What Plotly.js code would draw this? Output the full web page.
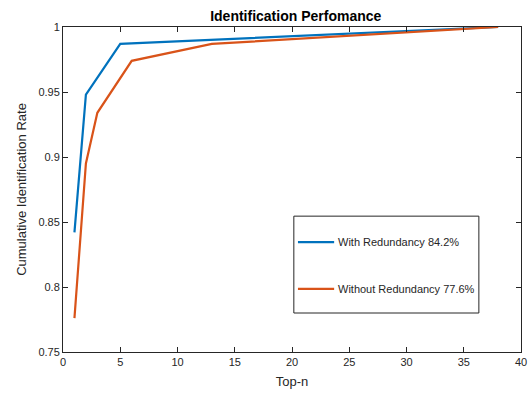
<!DOCTYPE html>
<html>
<head>
<meta charset="utf-8">
<script src="https://cdn.plot.ly/plotly-3.0.1.min.js"></script>
<style>html,body{margin:0;padding:0;background:#fff;}#chart{width:530px;height:394px;}</style>
</head>
<body>
<div id="chart"></div>
<script>
var withX = [1, 2, 5, 38];
var withY = [0.842, 0.948, 0.987, 1.0];
var withoutX = [1, 2, 3, 6, 13, 38];
var withoutY = [0.776, 0.895, 0.934, 0.974, 0.987, 1.0];
var seriesNames = ['With Redundancy 84.2%', 'Without Redundancy 77.6%'];
var seriesColors = ['#0072BD', '#D95319'];
var xTicks = [0, 5, 10, 15, 20, 25, 30, 35, 40];
var yTicks = [0.75, 0.8, 0.85, 0.9, 0.95, 1];
var yTickText = ['0.75', '0.8', '0.85', '0.9', '0.95', '1'];

var axisColor = '#262626';
var traces = [
  {x: withX, y: withY, mode: 'lines', name: seriesNames[0], line: {color: seriesColors[0], width: 2.2}},
  {x: withoutX, y: withoutY, mode: 'lines', name: seriesNames[1], line: {color: seriesColors[1], width: 2.2}}
];

var legY = [0.338, 0.194];
var shapes = [
  {type: 'rect', xref: 'paper', yref: 'paper', x0: 0.504, x1: 0.908, y0: 0.12, y1: 0.418,
   line: {color: axisColor, width: 1}, fillcolor: '#ffffff', layer: 'above'}
];
var annotations = [];
for (var i = 0; i < 2; i++) {
  shapes.push({type: 'line', xref: 'paper', yref: 'paper', x0: 0.513, x1: 0.592, y0: legY[i], y1: legY[i],
    line: {color: seriesColors[i], width: 2.2}, layer: 'above'});
  annotations.push({xref: 'paper', yref: 'paper', x: 0.597, y: legY[i], xanchor: 'left', yanchor: 'middle',
    text: seriesNames[i], showarrow: false, font: {family: 'Liberation Sans, Arial, sans-serif', size: 11, color: axisColor}});
}

var layout = {
  width: 530, height: 394,
  margin: {l: 63, r: 9, t: 27, b: 42},
  paper_bgcolor: '#ffffff', plot_bgcolor: '#ffffff',
  showlegend: false,
  font: {family: 'Liberation Sans, Arial, sans-serif', size: 11, color: axisColor},
  title: {text: '<b>Identification Perfomance</b>', x: 0.558, xanchor: 'center', y: 0.96, yanchor: 'middle',
    font: {size: 14, color: '#000000'}},
  xaxis: {range: [0, 40], tickvals: xTicks, ticks: 'inside', ticklen: 5, tickcolor: axisColor,
    showline: true, linecolor: axisColor, linewidth: 1, mirror: 'ticks', showgrid: false, zeroline: false,
    tickfont: {size: 11, color: axisColor},
    title: {text: 'Top-n', font: {size: 13, color: axisColor}, standoff: 9}},
  yaxis: {range: [0.75, 1], tickvals: yTicks, ticktext: yTickText, ticks: 'inside', ticklen: 5, tickcolor: axisColor,
    showline: true, linecolor: axisColor, linewidth: 1, mirror: 'ticks', showgrid: false, zeroline: false,
    tickfont: {size: 11, color: axisColor},
    title: {text: 'Cumulative Identification Rate', font: {size: 13, color: axisColor}, standoff: 8}},
  shapes: shapes,
  annotations: annotations
};
Plotly.newPlot('chart', traces, layout, {displayModeBar: false, staticPlot: true});
</script>
</body>
</html>
